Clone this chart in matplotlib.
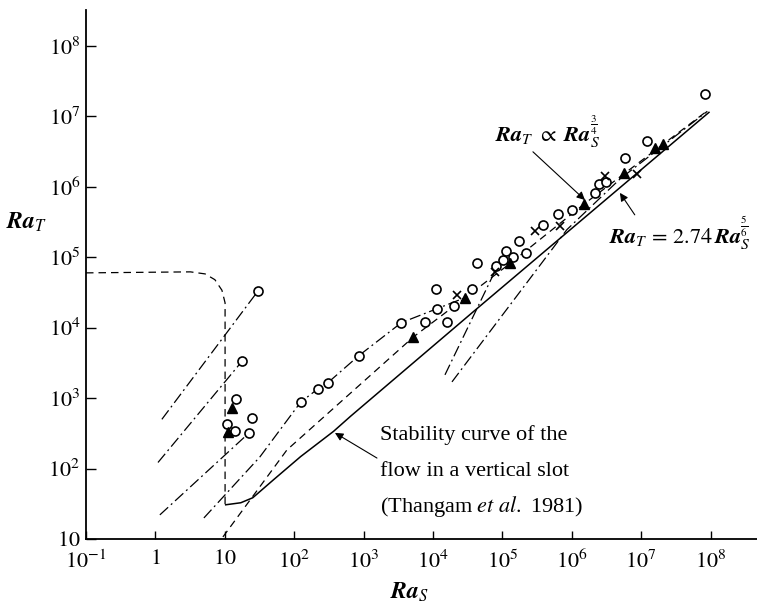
import matplotlib
matplotlib.use('Agg')
import matplotlib.pyplot as plt

plt.rcParams['font.family'] = ['Liberation Serif', 'DejaVu Serif']
plt.rcParams['mathtext.fontset'] = 'stix'

# ---------- data ----------
circle_ras = [30, 18, 14.4, 25, 10.7, 13.9, 22, 124, 218, 303, 847,
              3520, 7800, 1.16e4, 1.62e4, 1.12e4, 2.04e4, 3.7e4, 4.37e4,
              8.2e4, 1.03e5, 1.14e5, 1.44e5, 1.76e5, 2.2e5, 3.9e5, 6.4e5,
              1.02e6, 2.18e6, 2.5e6, 3.1e6, 5.9e6, 1.22e7, 8.3e7]
circle_rat = [3.3e4, 3.4e3, 970, 520, 425, 340, 316, 877, 1345, 1640, 3980,
              1.18e4, 1.22e4, 1.87e4, 1.22e4, 3.5e4, 2.06e4, 3.5e4, 8.2e4,
              7.4e4, 9.1e4, 1.22e5, 1.0e5, 1.69e5, 1.14e5, 2.87e5, 4.1e5,
              4.7e5, 8.2e5, 1.1e6, 1.18e6, 2.6e6, 4.5e6, 2.1e7]

tri_ras = [12.6, 11, 5240, 2.94e4, 1.3e5, 1.51e6, 5.7e6, 1.59e7, 2.07e7]
tri_rat = [720, 327, 7400, 2.68e4, 8.2e4, 5.7e5, 1.58e6, 3.5e6, 4.1e6]

cross_ras = [2.25e4, 7.9e4, 3.0e5, 6.8e5, 3.0e6, 8.7e6]
cross_rat = [2.87e4, 6.1e4, 2.35e5, 2.77e5, 1.44e6, 1.53e6]

# stability curve (Thangam et al. 1981)
stab_ras = [10.3, 17, 25.3, 50.7, 124, 370, 650, 3.83e4, 9.5e7]
stab_rat = [30.6, 32.7, 38.5, 69.7, 148, 338, 553, 1.69e4, 1.14e7]

# dashed boundary of the left region
bound_ras = [0.1, 3.2, 5.2, 7.2, 9.1, 10.1, 10.1]
bound_rat = [6.0e4, 6.2e4, 5.8e4, 4.8e4, 3.4e4, 2.25e4, 30.6]

# dashed trend, Ra_T ~ Ra_S^(3/4) at large Ra_S
trend_ras = [9.4, 78.7, 5240, 2.94e4, 1.3e5, 1.51e6, 9.2e7]
trend_rat = [10.7, 184, 7400, 2.68e4, 8.2e4, 5.7e5, 1.22e7]

# dash-dot experiment paths
paths = [
    ([1.24, 30], [500, 3.3e4]),
    ([1.09, 18], [122, 3.4e3]),
    ([1.16, 22], [22, 316]),
    ([5.0, 32, 124, 218, 303, 847, 3520, 1.16e4, 2.94e4],
     [19.9, 146, 877, 1345, 1640, 3980, 1.18e4, 1.87e4, 2.68e4]),
    ([1.49e4, 8.4e4], [2140, 7.3e4]),
    ([1.88e4, 8.5e5, 5.0e6, 9.0e7], [1700, 2.46e5, 1.3e6, 1.18e7]),
]

xticks = [0.1, 1, 10, 1e2, 1e3, 1e4, 1e5, 1e6, 1e7, 1e8]
xlabels = [r'$10^{-1}$', r'$1$', r'$10$', r'$10^{2}$', r'$10^{3}$', r'$10^{4}$',
           r'$10^{5}$', r'$10^{6}$', r'$10^{7}$', r'$10^{8}$']
yticks = [10, 1e2, 1e3, 1e4, 1e5, 1e6, 1e7, 1e8]
ylabels = [r'$10$', r'$10^{2}$', r'$10^{3}$', r'$10^{4}$', r'$10^{5}$',
           r'$10^{6}$', r'$10^{7}$', r'$10^{8}$']

fig = plt.figure(figsize=(7.57, 6.06), dpi=100)
ax = fig.add_axes([86 / 757, 67 / 606, 671 / 757, 529 / 606])
ax.set_xscale('log')
ax.set_yscale('log')
ax.set_xlim(0.1, 10 ** 8.67)
ax.set_ylim(10, 10 ** 8.51)

dashdot = (0, (9, 3, 1.5, 3))
for xs, ys in paths:
    ax.plot(xs, ys, color='black', lw=0.9, ls=dashdot)
ax.plot(trend_ras, trend_rat, color='black', lw=0.9, ls=(0, (6, 4)))
ax.plot(bound_ras, bound_rat, color='black', lw=0.9, ls=(0, (6, 4)))
ax.plot(stab_ras, stab_rat, color='black', lw=1.1)

ax.plot(circle_ras, circle_rat, 'o', ms=6.5, mfc='white', mec='black', mew=1.2)
ax.plot(tri_ras, tri_rat, '^', ms=7.5, color='black')
ax.plot(cross_ras, cross_rat, 'x', ms=5.5, color='black', mew=1.2)

for s in ['top', 'right']:
    ax.spines[s].set_visible(False)
for s in ['left', 'bottom']:
    ax.spines[s].set_linewidth(1.3)

ax.set_xticks(xticks)
ax.set_xticklabels(xlabels)
ax.set_yticks(yticks)
ax.set_yticklabels(ylabels)
ax.minorticks_off()
ax.tick_params(axis='both', direction='in', labelsize=16, width=1.0)
ax.tick_params(axis='y', length=7, pad=4)
ax.tick_params(axis='x', length=6, pad=8)

fig.text(27 / 757, 1 - 222 / 606, r'$\mathbfit{Ra}_{T}$', fontsize=17,
         ha='center', va='center')
fig.text(410 / 757, 1 - 592 / 606, r'$\mathbfit{Ra}_{S}$', fontsize=17,
         ha='center', va='center')

# stability-curve note
for i, line in enumerate(['Stability curve of the', 'flow in a vertical slot',
                          r'(Thangam $\mathit{et\ al}.$ 1981)']):
    fig.text(380 / 757, 1 - (440 + 36 * i) / 606, line, fontsize=16,
             ha='left', va='baseline')
ax.annotate('', xy=(387, 321), xytext=(1560, 141),
            arrowprops=dict(arrowstyle='-|>', lw=0.8, color='black',
                            mutation_scale=12, shrinkA=0, shrinkB=0))

fig.text(600 / 757, 1 - 142 / 606,
         r'$\mathbfit{Ra}_{T}\ \propto\ \mathbfit{Ra}_{S}^{\frac{3}{4}}$',
         fontsize=16, ha='right', va='baseline')
ax.annotate('', xy=(1.55e6, 6.5e5), xytext=(2.76e5, 3.14e6),
            arrowprops=dict(arrowstyle='-|>', lw=0.8, color='black',
                            mutation_scale=12, shrinkA=0, shrinkB=0))

fig.text(750 / 757, 1 - 244 / 606,
         r'$\mathbfit{Ra}_{T}\,=\,2.74\,\mathbfit{Ra}_{S}^{\frac{5}{6}}$',
         fontsize=16, ha='right', va='baseline')
ax.annotate('', xy=(4.95e6, 8.2e5), xytext=(8.1e6, 4.0e5),
            arrowprops=dict(arrowstyle='-|>', lw=0.8, color='black',
                            mutation_scale=12, shrinkA=0, shrinkB=0))

fig.savefig('out.png', dpi=100, facecolor='white')
plt.close(fig)
